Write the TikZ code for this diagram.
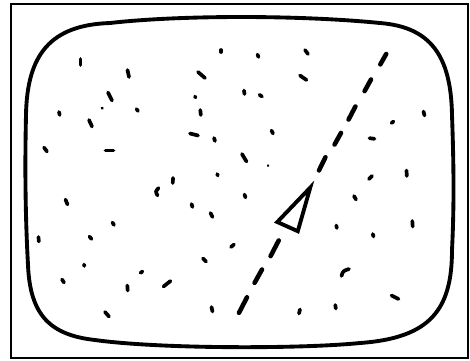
\documentclass[tikz,border=0pt]{standalone}
\begin{document}
\begin{tikzpicture}[x=0.1mm,y=-0.1mm,
  frame/.style={line width=0.65pt},
  screen/.style={line width=1.1pt},
  speck/.style={line width=1.05pt,line cap=round},
  tinyspeck/.style={line width=0.8pt,line cap=round},
  dashseg/.style={line width=1.3pt,line cap=round},
  pointer/.style={line width=1.1pt,line join=miter}]
\useasboundingbox[fill=white] (0,0) rectangle (470,360);
% outer frame
\draw[frame] (11,4) rectangle (468,358);
% screen outline
\draw[screen] (110,23) .. controls (180,15) and (300,15) .. (380,23)
  .. controls (430,27) and (451,55) .. (452,115)
  .. controls (454,170) and (454,210) .. (452,250)
  .. controls (452,310) and (430,338) .. (360,343)
  .. controls (300,349) and (160,349) .. (95,340)
  .. controls (50,335) and (30,315) .. (28,265)
  .. controls (25,210) and (25,160) .. (26,115)
  .. controls (27,55) and (50,25) .. (110,23) -- cycle;
% dashed track
\foreach \ax/\ay/\bx/\by in {386.2/54/380.3/64.4, 371/79.5/364.6/91.1, 355.4/106.5/348.6/119.5, 341/132.9/334.6/144.5, 325.4/157.3/319/170.4,
  278.7/240.5/270.6/256.1, 262/269.5/254.6/282.8, 247/297.3/239/312.8}
  \draw[dashseg] (\ax,\ay) -- (\bx,\by);
% pointer triangle
\coordinate (tA) at (310.3,187.5);
\coordinate (tB) at (277.3,222);
\coordinate (tC) at (297.8,231.2);
\draw[pointer] (tA) -- (tB) -- (tC) -- cycle;
% specks
\foreach \ax/\ay/\bx/\by in {
  80.5/59/80.5/65, 127.5/70/129/77, 198/72/205/78, 221/50/221/52,
  108/92.5/112/100.5, 136.5/109/138/111, 59/112/59.7/115, 89/120/92/126.5,
  195/96.5/195.5/97.5, 200.3/110/200.8/115, 190/133.5/198/135.5, 214/138/215/141,
  44/147.5/47/151.5, 105.5/150.5/113.5/150.5, 173/178/172.8/183, 217.2/174/217.8/175.5,
  257.5/54.5/258.5/57, 305/50/308/54, 300/75.5/306.5/80, 244/90.5/244.5/94,
  259.5/94.8/262/96.5, 271.5/130.5/273/133.5, 423.5/111.5/424.5/115.5, 391.5/123/393.5/121.5,
  369.5/138.2/374.5/138.8, 369/179/372/176, 406.5/170.5/406.8/176,
  65.5/199.5/67.5/204.5, 191.5/204/192.5/207, 210.5/213/212.5/217, 112.5/222.5/114/225,
  38.5/237/38.8/241.5, 89.5/236.5/91.5/239, 231/247/234/244.5, 203/258.5/206/261.5,
  84/264.5/84.3/266, 140.5/272.8/142.5/271.5, 62/279.5/64/282.5, 127.3/285.5/127.7/290.5,
  163.5/286.5/170.5/281, 105/312/109/316.5, 211.5/307/212.5/311.5, 244.5/194.5/245.5/197.5,
  354/196/356/199.5, 336.3/225.5/336.8/228, 372.8/234/373.5/236.5, 412.3/221/412.7/226.5,
  391.5/295.5/398.5/299, 300/309.5/299/313.5, 335.3/305/335.8/308.5}
  \draw[speck] (\ax,\ay) -- (\bx,\by);
\draw[speck] (242,154) .. controls (243.5,157.5) .. (246.5,161.5);
\draw[speck] (158.5,188) .. controls (155.5,191.5) .. (157.5,195.5);
\draw[speck] (349,269) .. controls (343,271) .. (341.5,276);
\draw[tinyspeck] (102,108) -- (102.4,108.3);
\draw[tinyspeck] (268,165.5) -- (268.2,165.7);
\end{tikzpicture}
\end{document}
